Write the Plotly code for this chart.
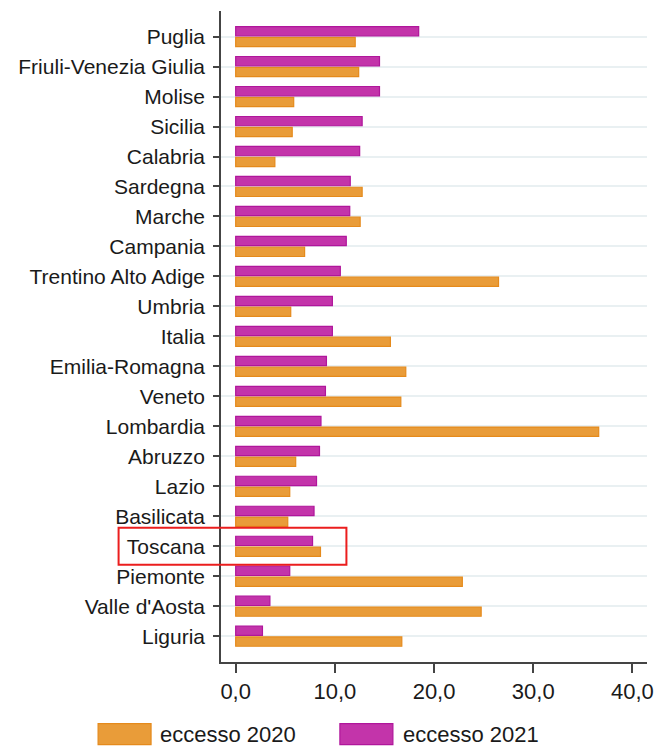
import plotly.graph_objects as go

# Data (top to bottom as shown)
regions = ["Puglia", "Friuli-Venezia Giulia", "Molise", "Sicilia", "Calabria", "Sardegna",
           "Marche", "Campania", "Trentino Alto Adige", "Umbria", "Italia", "Emilia-Romagna",
           "Veneto", "Lombardia", "Abruzzo", "Lazio", "Basilicata", "Toscana", "Piemonte",
           "Valle d'Aosta", "Liguria"]
eccesso_2020 = [12.05, 12.4, 5.85, 5.7, 3.95, 12.75, 12.55, 6.95, 26.5, 5.55, 15.6, 17.15,
                16.65, 36.6, 6.05, 5.45, 5.25, 8.55, 22.85, 24.75, 16.75]
eccesso_2021 = [18.45, 14.5, 14.5, 12.75, 12.5, 11.55, 11.5, 11.15, 10.55, 9.75, 9.75, 9.15,
                9.05, 8.6, 8.45, 8.15, 7.9, 7.75, 5.45, 3.45, 2.7]
x_ticks = [0, 10, 20, 30, 40]

# bottom-to-top order for the category axis
cats = regions[::-1]
v2020 = eccesso_2020[::-1]
v2021 = eccesso_2021[::-1]

ORANGE = "rgb(233,156,57)"
ORANGE_LINE = "rgb(229,138,28)"
PURPLE = "rgb(195,52,170)"
PURPLE_LINE = "rgb(176,22,155)"

fig = go.Figure()
fig.add_trace(go.Bar(y=cats, x=v2020, orientation="h", name="eccesso 2020",
                     marker=dict(color=ORANGE, line=dict(color=ORANGE_LINE, width=1.2))))
fig.add_trace(go.Bar(y=cats, x=v2021, orientation="h", name="eccesso 2021",
                     marker=dict(color=PURPLE, line=dict(color=PURPLE_LINE, width=1.2))))

font_family = "Liberation Sans, Arial, sans-serif"

fig.update_layout(
    width=660, height=747,
    margin=dict(l=221, r=13, t=11, b=85, pad=0, autoexpand=False),
    plot_bgcolor="white", paper_bgcolor="white",
    barmode="group", bargap=0.28, bargroupgap=0.14,
    separators=",.",
    showlegend=False,
    font=dict(family=font_family, color="#1a1a1a"),
)
fig.update_xaxes(
    automargin=False,
    range=[-1.48, 41.47], tickvals=x_ticks, tickformat=".1f",
    showgrid=False, zeroline=False,
    showline=True, linecolor="#444444", linewidth=1.5,
    ticks="outside", ticklen=9, tickwidth=1.5, tickcolor="#444444",
    tickfont=dict(size=22, family=font_family, color="#1a1a1a"),
)
fig.update_yaxes(
    automargin=False,
    type="category", categoryorder="array", categoryarray=cats,
    range=[-0.86, 20.853],
    showgrid=True, gridcolor="#e9f0f2", gridwidth=1.5,
    showline=True, linecolor="#444444", linewidth=1.5,
    ticks="outside", ticklen=6, tickwidth=1.5, tickcolor="#444444",
    tickfont=dict(size=21, family=font_family, color="#1a1a1a"),
    ticklabelstandoff=4,
)

# highlight box around Toscana
fig.add_shape(type="rect", xref="paper", yref="paper",
              x0=-0.2404, x1=0.2944, y0=0.1493, y1=0.2061,
              line=dict(color="rgb(235,30,30)", width=2), fillcolor="rgba(0,0,0,0)")

# custom legend
fig.add_shape(type="rect", xref="paper", yref="paper",
              x0=-0.2885, x1=-0.1642, y0=-0.1269, y1=-0.0947,
              fillcolor=ORANGE, line=dict(color=ORANGE_LINE, width=1.2))
fig.add_shape(type="rect", xref="paper", yref="paper",
              x0=0.2791, x1=0.4035, y0=-0.1269, y1=-0.0947,
              fillcolor=PURPLE, line=dict(color=PURPLE_LINE, width=1.2))
fig.add_annotation(xref="paper", yref="paper", x=-0.1478, y=-0.1116, xanchor="left",
                   yanchor="middle", text="eccesso 2020", showarrow=False,
                   font=dict(size=22, family=font_family, color="#1a1a1a"))
fig.add_annotation(xref="paper", yref="paper", x=0.4222, y=-0.1116, xanchor="left",
                   yanchor="middle", text="eccesso 2021", showarrow=False,
                   font=dict(size=22, family=font_family, color="#1a1a1a"))

fig.write_html("out.html",
               config={"displayModeBar": False},
               post_script="document.body.style.margin='0';document.body.style.overflow='hidden';")
